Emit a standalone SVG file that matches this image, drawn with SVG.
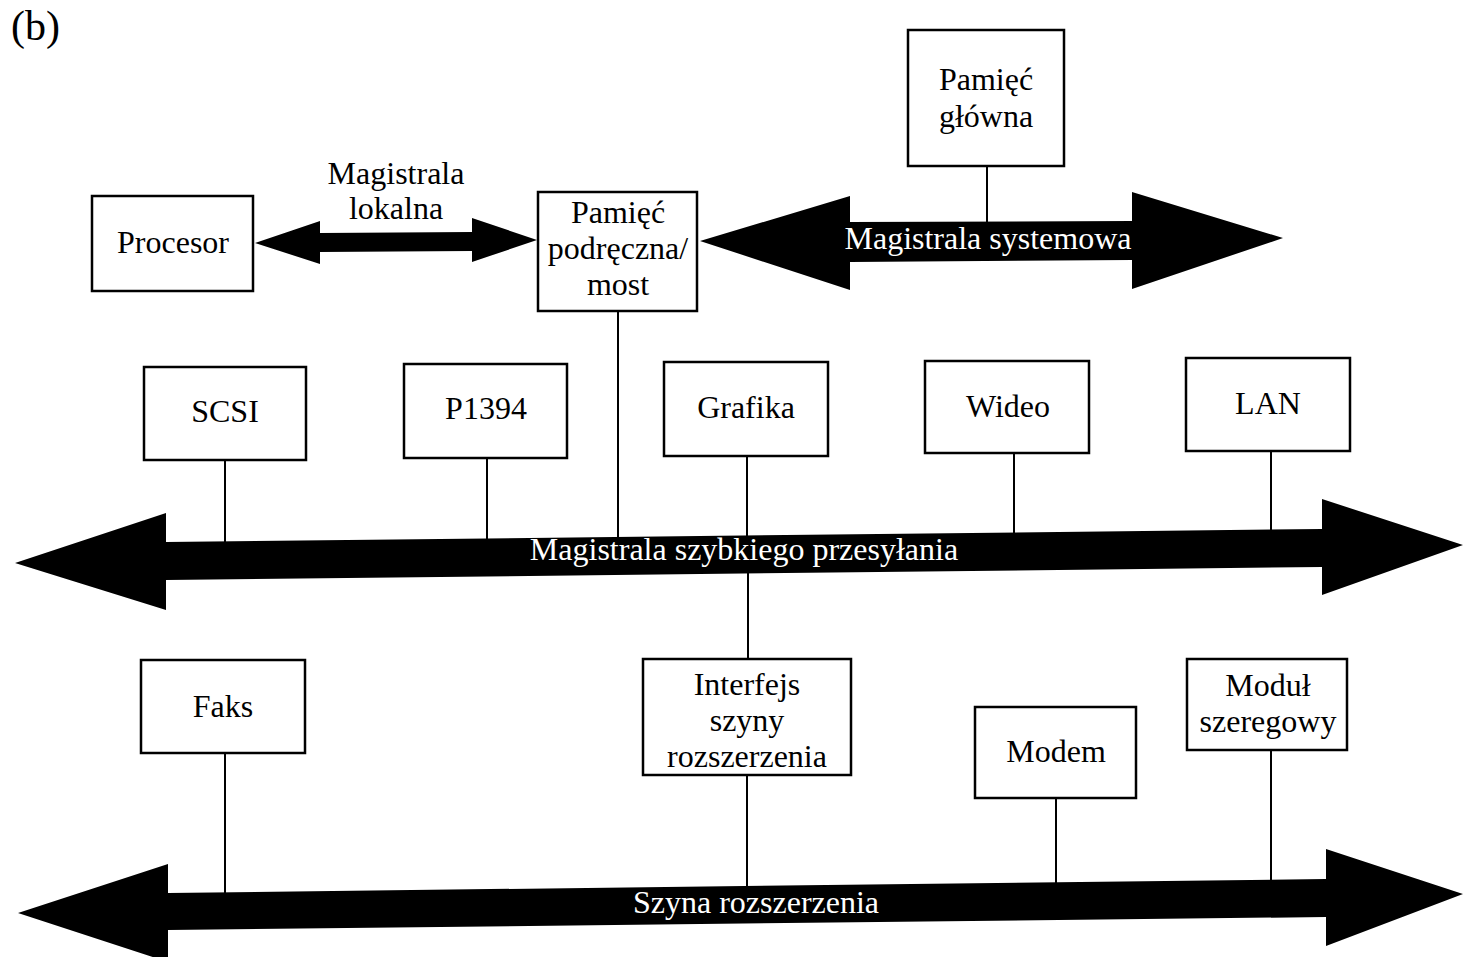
<svg xmlns="http://www.w3.org/2000/svg" width="1463" height="957" viewBox="0 0 1463 957">
<style>
.box{fill:#fff;stroke:#000;stroke-width:2.5}
.t{font-family:"Liberation Serif","Times New Roman",serif;font-size:32px;fill:#000;text-anchor:middle}
.w{font-family:"Liberation Serif","Times New Roman",serif;font-size:32px;fill:#fff;text-anchor:middle}
.ln{stroke:#000;stroke-width:2;fill:none}
.bus{fill:#000;stroke:none}
</style>
<rect width="1463" height="957" fill="#fff"/>
<text x="11" y="40" font-family="Liberation Serif, serif" font-size="42">(b)</text>

<g id="connectors">
  <line class="ln" x1="987" y1="166" x2="987" y2="224"/>
  <line class="ln" x1="618" y1="311" x2="618" y2="542"/>
  <line class="ln" x1="225" y1="460" x2="225" y2="544"/>
  <line class="ln" x1="487" y1="458" x2="487" y2="540"/>
  <line class="ln" x1="747" y1="456" x2="747" y2="538"/>
  <line class="ln" x1="1014" y1="453" x2="1014" y2="534"/>
  <line class="ln" x1="1271" y1="451" x2="1271" y2="531"/>
  <line class="ln" x1="748" y1="570" x2="748" y2="660"/>
  <line class="ln" x1="225" y1="753" x2="225" y2="894"/>
  <line class="ln" x1="747" y1="775" x2="747" y2="888"/>
  <line class="ln" x1="1056" y1="798" x2="1056" y2="884"/>
  <line class="ln" x1="1271" y1="750" x2="1271" y2="881"/>
</g>

<g id="bus-lokalna">
  <polygon class="bus" points="255,243 320,221 320,233 472,232 472,218 537,240 472,262 472,251 320,252 320,264"/>
  <text class="t" x="396" y="184">Magistrala</text>
  <text class="t" x="396" y="219">lokalna</text>
</g>
<g id="bus-systemowa">
  <polygon class="bus" points="700,241 850,196 850,222 1132,221 1132,192 1283,238 1132,289 1132,260 850,262 850,290"/>
  <text class="w" x="988" y="249">Magistrala systemowa</text>
</g>
<g id="bus-szybka">
  <polygon class="bus" points="15,563 166,513 166,542 1322,529 1322,499 1463,545 1322,595 1322,567 166,580 166,610"/>
  <text class="w" x="744" y="560">Magistrala szybkiego przesyłania</text>
</g>
<g id="bus-rozszerzenia">
  <polygon class="bus" points="18,913 168,864 168,893 1326,879 1326,849 1463,894 1326,946 1326,917 168,930 168,962"/>
  <text class="w" x="756" y="913">Szyna rozszerzenia</text>
</g>

<g id="procesor">
  <rect class="box" x="92" y="196" width="161" height="95"/>
  <text class="t" x="173" y="253">Procesor</text>
</g>
<g id="cache">
  <rect class="box" x="538" y="192" width="159" height="119"/>
  <text class="t" x="618" y="223">Pamięć</text>
  <text class="t" x="618" y="259">podręczna/</text>
  <text class="t" x="618" y="295">most</text>
</g>
<g id="pamiec-glowna">
  <rect class="box" x="908" y="30" width="156" height="136"/>
  <text class="t" x="986" y="90">Pamięć</text>
  <text class="t" x="986" y="127">główna</text>
</g>
<g id="scsi">
  <rect class="box" x="144" y="367" width="162" height="93"/>
  <text class="t" x="225" y="422">SCSI</text>
</g>
<g id="p1394">
  <rect class="box" x="404" y="364" width="163" height="94"/>
  <text class="t" x="486" y="419">P1394</text>
</g>
<g id="grafika">
  <rect class="box" x="664" y="362" width="164" height="94"/>
  <text class="t" x="746" y="418">Grafika</text>
</g>
<g id="wideo">
  <rect class="box" x="925" y="361" width="164" height="92"/>
  <text class="t" x="1008" y="417">Wideo</text>
</g>
<g id="lan">
  <rect class="box" x="1186" y="358" width="164" height="93"/>
  <text class="t" x="1268" y="414">LAN</text>
</g>
<g id="faks">
  <rect class="box" x="141" y="660" width="164" height="93"/>
  <text class="t" x="223" y="717">Faks</text>
</g>
<g id="interfejs">
  <rect class="box" x="643" y="659" width="208" height="116"/>
  <text class="t" x="747" y="695">Interfejs</text>
  <text class="t" x="747" y="731">szyny</text>
  <text class="t" x="747" y="767">rozszerzenia</text>
</g>
<g id="modem">
  <rect class="box" x="975" y="707" width="161" height="91"/>
  <text class="t" x="1056" y="762">Modem</text>
</g>
<g id="modul">
  <rect class="box" x="1187" y="659" width="160" height="91"/>
  <text class="t" x="1268" y="696">Moduł</text>
  <text class="t" x="1268" y="732">szeregowy</text>
</g>
</svg>
